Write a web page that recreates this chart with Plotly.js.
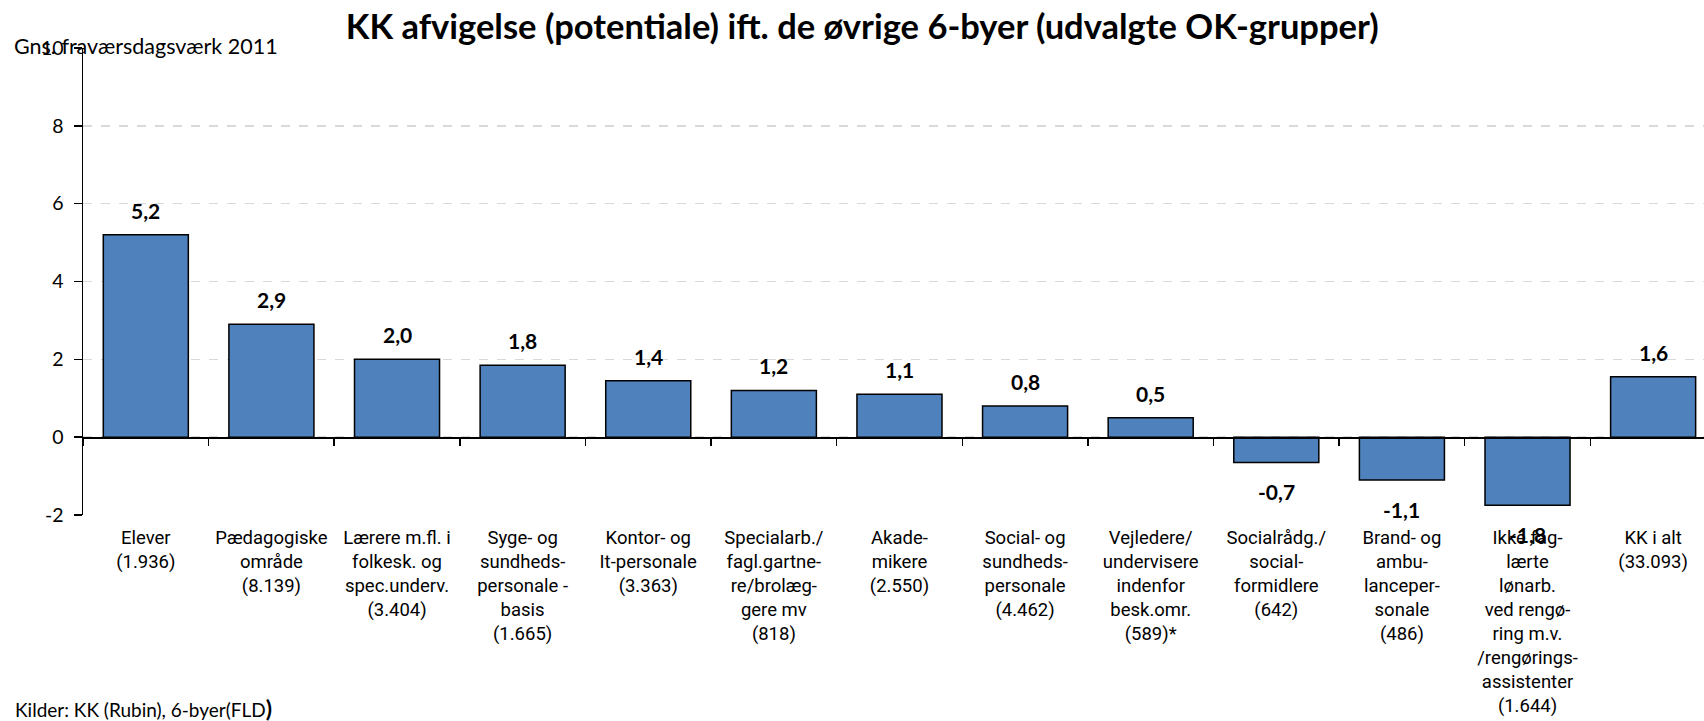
<!DOCTYPE html>
<html>
<head>
<meta charset="utf-8">
<script src="https://cdn.plot.ly/plotly-3.0.1.min.js"></script>
<style>
  html, body { margin: 0; padding: 0; background: white; }
  #chart { width: 1704px; height: 721px; }
</style>
</head>
<body>
<div id="chart"></div>
<script>
// OK-grupper (antal i parentes)
const groups = [
  'Elever<br>(1.936)',
  'Pædagogiske<br>område<br>(8.139)',
  'Lærere m.fl. i<br>folkesk. og<br>spec.underv.<br>(3.404)',
  'Syge- og<br>sundheds-<br>personale -<br>basis<br>(1.665)',
  'Kontor- og<br>It-personale<br>(3.363)',
  'Specialarb./<br>fagl.gartne-<br>re/brolæg-<br>gere mv<br>(818)',
  'Akade-<br>mikere<br>(2.550)',
  'Social- og<br>sundheds-<br>personale<br>(4.462)',
  'Vejledere/<br>undervisere<br>indenfor<br>besk.omr.<br>(589)*',
  'Socialrådg./<br>social-<br>formidlere<br>(642)',
  'Brand- og<br>ambu-<br>lanceper-<br>sonale<br>(486)',
  'Ikke fag-<br>lærte<br>lønarb.<br>ved rengø-<br>ring m.v.<br>/rengørings-<br>assistenter<br>(1.644)',
  'KK i alt<br>(33.093)'
];

// afvigelse i gns. fraværsdagsværk
const deviation = [5.2, 2.9, 2.0, 1.85, 1.45, 1.2, 1.1, 0.8, 0.5, -0.65, -1.1, -1.75, 1.55];
const shownLabels = ['5,2', '2,9', '2,0', '1,8', '1,4', '1,2', '1,1', '0,8', '0,5', '-0,7', '-1,1', '-1,8', '1,6'];

const yTicks = [-2, 0, 2, 4, 6, 8, 10];

const calibriLike = 'Lato, "Open Sans", sans-serif';
const narrow = 'Roboto, "Liberation Sans", sans-serif';

const bars = {
  type: 'bar',
  x: groups,
  y: deviation,
  marker: { color: '#4F81BD', line: { color: '#000000', width: 1.5 } },
  hoverinfo: 'skip',
  showlegend: false
};

// usynlig spor, så nul-aksen får sine tick-streger
const zeroAxisCarrier = {
  type: 'scatter',
  mode: 'markers',
  x: groups,
  y: deviation,
  xaxis: 'x2',
  marker: { opacity: 0 },
  hoverinfo: 'skip',
  showlegend: false
};

const valueLabels = deviation.map((v, i) => ({
  x: groups[i],
  y: v,
  xref: 'x',
  yref: 'y',
  text: '<b>' + shownLabels[i] + '</b>',
  showarrow: false,
  yanchor: v >= 0 ? 'bottom' : 'top',
  yshift: v >= 0 ? 10 : -15,
  font: { family: calibriLike, size: 21, color: '#000' }
}));

const layout = {
  width: 1704,
  height: 721,
  margin: { l: 83, r: 0, t: 48, b: 206 },
  paper_bgcolor: 'white',
  plot_bgcolor: 'white',
  bargap: 0.323,
  showlegend: false,
  title: {
    text: '<b>KK afvigelse (potentiale) ift. de øvrige 6-byer (udvalgte OK-grupper)</b>',
    font: { family: calibriLike, size: 34.5, color: '#000' },
    x: 0.506,
    xanchor: 'center',
    xref: 'container',
    y: 0.962,
    yanchor: 'middle',
    yref: 'container'
  },
  xaxis: {
    type: 'category',
    range: [-0.5, 12.405],
    showgrid: false,
    zeroline: false,
    showline: false,
    ticks: '',
    tickfont: { family: narrow, size: 18.5, color: '#000' },
    ticklabelstandoff: 9,
    fixedrange: true
  },
  xaxis2: {
    type: 'category',
    overlaying: 'x',
    anchor: 'free',
    position: 2 / 12,
    range: [-0.5, 12.405],
    showgrid: false,
    zeroline: false,
    showline: true,
    linecolor: '#000',
    linewidth: 1.5,
    ticks: 'outside',
    tickson: 'boundaries',
    ticklen: 7,
    tickwidth: 1.5,
    tickcolor: '#000',
    showticklabels: false
  },
  yaxis: {
    range: [-2, 10],
    tickvals: yTicks,
    ticktext: yTicks.map(String),
    showgrid: true,
    gridcolor: '#d9d9d9',
    griddash: 'dash',
    gridwidth: 1.5,
    zeroline: false,
    showline: true,
    linecolor: '#000',
    linewidth: 1.5,
    ticks: 'outside',
    ticklen: 8,
    tickwidth: 1.5,
    tickcolor: '#000',
    tickfont: { family: calibriLike, size: 19.5, color: '#000' },
    ticklabelstandoff: 6
  },
  annotations: valueLabels.concat([
    {
      text: 'Gns. fraværsdagsværk 2011',
      xref: 'paper', yref: 'paper',
      x: -71 / 1621, y: 1,
      xanchor: 'left', yanchor: 'middle',
      yshift: 2,
      showarrow: false,
      font: { family: calibriLike, size: 21.5, color: '#000' }
    },
    {
      text: 'Kilder: KK (Rubin), 6-byer(FLD<span style="font-size:23px"><b>)</b></span>',
      xref: 'paper', yref: 'paper',
      x: -70 / 1621, y: -193 / 467,
      xanchor: 'left', yanchor: 'middle',
      showarrow: false,
      font: { family: calibriLike, size: 19, color: '#000' }
    }
  ])
};

Plotly.newPlot('chart', [bars, zeroAxisCarrier], layout, { displayModeBar: false, staticPlot: true });
</script>
</body>
</html>
